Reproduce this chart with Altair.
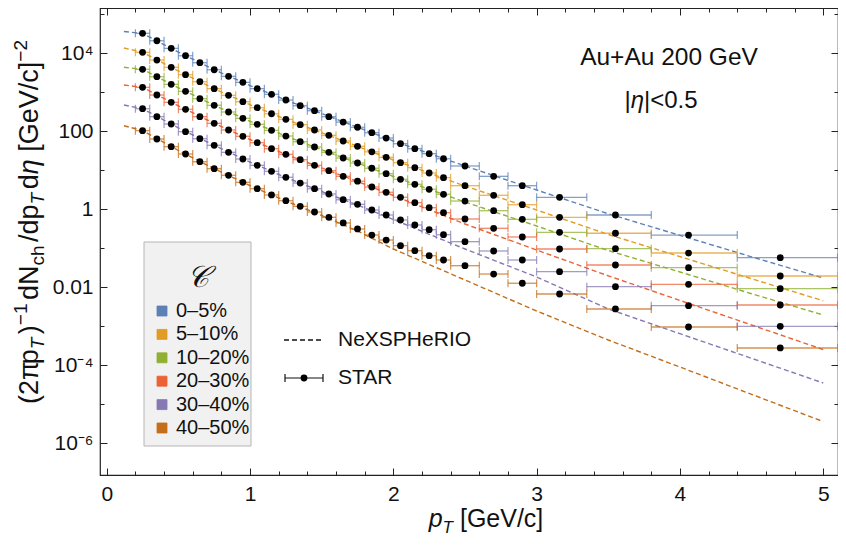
import altair as alt
import pandas as pd

# ---------------- data ----------------
CLASSES = ["0–5%", "5–10%", "10–20%", "20–30%", "30–40%", "40–50%"]
COLORS = ["#5E81B5", "#E19C24", "#8FB032", "#EB6235", "#8778B3", "#C56E1A"]

PT = [0.25, 0.35, 0.45, 0.55, 0.65, 0.75, 0.85, 0.95, 1.05, 1.15, 1.25, 1.35,
      1.45, 1.55, 1.65, 1.75, 1.85, 1.95, 2.05, 2.15, 2.25, 2.35,
      2.5, 2.7, 2.9, 3.16, 3.55, 4.06, 4.70]
PT_EDGES = [0.2, 0.3, 0.4, 0.5, 0.6, 0.7, 0.8, 0.9, 1.0, 1.1, 1.2, 1.3, 1.4,
            1.5, 1.6, 1.7, 1.8, 1.9, 2.0, 2.1, 2.2, 2.3, 2.4,
            2.6, 2.8, 3.0, 3.35, 3.8, 4.4, 5.1]

STAR_0_5 = [32600, 21000, 13400, 8670, 5740, 3790, 2570, 1800, 1240, 889, 635, 453,
            337, 237, 173, 127, 92.0, 67.3, 48.1, 35.8, 26.7, 19.8,
            12.9, 7.01, 4.03, 2.03, 0.714, 0.219, 0.0574]
STAR_5_10 = [10600, 6730, 4380, 2830, 1870, 1240, 838, 574, 403, 282, 203, 148,
             108, 78.9, 56.4, 41.2, 29.8, 21.5, 15.7, 11.7, 8.53, 6.46,
             4.03, 2.29, 1.31, 0.624, 0.243, 0.0757, 0.0195]
STAR_10_20 = [3890, 2510, 1600, 1060, 685, 464, 313, 215, 151, 106, 75.7, 54.1,
              39.6, 28.9, 20.7, 15.4, 11.3, 8.18, 5.88, 4.38, 3.26, 2.43,
              1.63, 0.921, 0.554, 0.257, 0.0977, 0.0318, 0.0092]
STAR_20_30 = [1340, 853, 554, 367, 237, 160, 108, 74.5, 51.0, 35.8, 25.7, 18.7,
              13.4, 9.77, 7.02, 5.26, 3.73, 2.73, 2.03, 1.48, 1.10, 0.818,
              0.564, 0.326, 0.195, 0.0960, 0.0373, 0.0119, 0.00352]
STAR_30_40 = [380, 237, 154, 97.7, 64.6, 43.8, 28.9, 19.5, 13.4, 9.43, 6.62, 4.72,
              3.37, 2.47, 1.76, 1.34, 0.959, 0.714, 0.532, 0.396, 0.300, 0.223,
              0.148, 0.0853, 0.0501, 0.0251, 0.0104, 0.00338, 0.00100]
STAR_40_50 = [104, 63.5, 40.3, 26.2, 16.6, 11.0, 7.45, 4.92, 3.37, 2.33, 1.66, 1.19,
              0.853, 0.624, 0.446, 0.313, 0.219, 0.163, 0.117, 0.0868, 0.0646, 0.0501,
              0.0358, 0.0219, 0.0127, 0.00673, 0.00278, 0.00096, 0.000278]
STAR = [STAR_0_5, STAR_5_10, STAR_10_20, STAR_20_30, STAR_30_40, STAR_40_50]

MODEL_PT = [0.12, 0.25, 0.5, 0.75, 1.0, 1.25, 1.5, 1.75, 2.0, 2.5, 3.0, 3.5, 4.0, 4.5, 5.0]
MODEL_0_5 = [36200, 32200, 10800, 3790, 1490, 635, 286, 127, 56.4, 12.9, 3.13, 0.767,
             0.215, 0.0605, 0.0173]
MODEL_5_10 = [13700, 10600, 3520, 1240, 481, 203, 92.0, 41.2, 18.4, 3.96, 0.959, 0.226,
              0.0612, 0.0166, 0.00451]
MODEL_10_20 = [4380, 3890, 1305, 464, 180, 75.7, 33.7, 15.4, 6.93, 1.54, 0.373, 0.0878,
               0.0247, 0.00685, 0.00195]
MODEL_20_30 = [1540, 1343, 451, 160, 61.6, 25.7, 11.5, 5.16, 2.26, 0.420, 0.0904, 0.0197,
               0.00461, 0.00108, 0.000253]
MODEL_30_40 = [472, 380, 122, 43.8, 16.3, 6.53, 2.86, 1.29, 0.548, 0.0960, 0.0184, 0.00278,
               0.000646, 0.000151, 0.0000352]
MODEL_40_50 = [139, 104, 32.2, 11.0, 4.07, 1.63, 0.693, 0.278, 0.0960, 0.0154, 0.00247,
               0.000445, 0.0000904, 0.0000180, 0.0000036]
MODEL = [MODEL_0_5, MODEL_5_10, MODEL_10_20, MODEL_20_30, MODEL_30_40, MODEL_40_50]

X_TICKS = [0.0, 0.2, 0.4, 0.6, 0.8, 1.0, 1.2, 1.4, 1.6, 1.8, 2.0, 2.2, 2.4, 2.6, 2.8,
           3.0, 3.2, 3.4, 3.6, 3.8, 4.0, 4.2, 4.4, 4.6, 4.8, 5.0]
Y_TICKS = [1e-6, 1e-5, 1e-4, 1e-3, 1e-2, 1e-1, 1, 10, 100, 1000, 1e4, 1e5]
Y_LABELS = [(1e4, "10⁴"), (100, "100"), (1, "1"), (0.01, "0.01"),
            (1e-4, "10⁻⁴"), (1e-6, "10⁻⁶")]

# ---------------- tables ----------------
star_rows = []
for cls, vals in zip(CLASSES, STAR):
    for i, (p, v) in enumerate(zip(PT, vals)):
        star_rows.append({"cls": cls, "pt": p, "val": v,
                          "lo": PT_EDGES[i], "hi": PT_EDGES[i + 1]})
star = pd.DataFrame(star_rows)

model_rows = []
for cls, vals in zip(CLASSES, MODEL):
    for p, v in zip(MODEL_PT, vals):
        model_rows.append({"cls": cls, "pt": p, "val": v})
model = pd.DataFrame(model_rows)

ONE = pd.DataFrame({"k": [0]})

# ---------------- style ----------------
FONT = "Liberation Sans"
INK = "#111111"
W, H = 738, 467
PL, PT0 = 92, 0  # padding left / top -> plot origin at page (100, 8)

xs = alt.Scale(domain=[-0.047, 5.103], nice=False, zero=False)
ys = alt.Scale(type="log", domain=[1.538e-7, 1.452e5], nice=False)
cs = alt.Scale(domain=CLASSES, range=COLORS)

X_MAJOR = "abs(datum.value - round(datum.value)) < 1e-6"
Y_MAJOR = "abs(log(datum.value)/LN10/2 - round(log(datum.value)/LN10/2)) < 1e-6"


def axis(orient, values, major, labels=False, label_expr=None, pad=7):
    kw = dict(orient=orient, values=values, domain=False, grid=False, ticks=True,
              tickSize=7, offset=-7, tickColor="#222222", tickWidth=1,
              tickDash={"condition": {"test": "!(" + major + ")", "value": [0, 3, 4, 30]},
                        "value": [9, 0]},
              title=None)
    if labels:
        kw.update(labels=True, labelExpr=label_expr, labelFont=FONT, labelFontSize=21,
                  labelColor=INK, labelPadding=pad, labelFlush=False,
                  labelOverlap=False, labelBound=False)
    else:
        kw.update(labels=False)
    return alt.Axis(**kw)


y_expr = " : ".join(f"datum.value == {v!r} ? '{s}'" for v, s in Y_LABELS) + " : ''"
x_expr = "(" + X_MAJOR + ") ? format(datum.value, 'd') : ''"

ax_bottom = axis("bottom", X_TICKS, X_MAJOR, True, x_expr, pad=8)
ax_top = axis("top", X_TICKS, X_MAJOR)
ax_left = axis("left", Y_TICKS, Y_MAJOR, True, y_expr, pad=7)
ax_right = axis("right", Y_TICKS, Y_MAJOR)

# colour legend: entries only; its box and title are drawn as separate marks
legend = alt.Legend(
    title=None, orient="none", legendX=52, legendY=293, padding=0,
    symbolType="square", symbolSize=100, symbolOpacity=1,
    symbolStrokeColor="rgba(0,0,0,0.35)", symbolStrokeWidth=0.8,
    labelFont=FONT, labelFontSize=20, labelColor=INK, labelOffset=4, labelLimit=300,
    rowPadding=3.4,
)
color = alt.Color("cls:N", scale=cs, legend=legend)

# ---------------- data layers ----------------
lines = alt.Chart(model).mark_line(strokeDash=[5, 3], strokeWidth=1.4).encode(
    x=alt.X("pt:Q", scale=xs, axis=ax_top),
    y=alt.Y("val:Q", scale=ys, axis=ax_right),
    color=color,
    detail="cls:N",
)

bars = alt.Chart(star).mark_rule(strokeWidth=1.3, opacity=0.75).encode(
    x=alt.X("lo:Q", scale=xs, axis=None),
    x2="hi:Q",
    y=alt.Y("val:Q", scale=ys, axis=None),
    color=color,
)

caps = alt.Chart(star).transform_fold(["lo", "hi"], as_=["side", "edge"]).mark_tick(
    orient="vertical", size=8, thickness=1.2, opacity=0.75
).encode(
    x=alt.X("edge:Q", scale=xs, axis=None),
    y=alt.Y("val:Q", scale=ys, axis=None),
    color=color,
)

points = alt.Chart(star).mark_circle(size=46, color="black", opacity=1).encode(
    x=alt.X("pt:Q", scale=xs, axis=ax_bottom),
    y=alt.Y("val:Q", scale=ys, axis=ax_left),
)


# ---------------- text helpers (positions relative to plot origin) ----------------
def txt(text, x, y, size, style="normal", angle=None, align="left",
        baseline="alphabetic", font=FONT):
    kw = dict(text=text, fontSize=size, fontStyle=style, align=align,
              baseline=baseline, font=font, color=INK)
    if angle is not None:
        kw["angle"] = angle
    return alt.Chart(ONE).mark_text(**kw).encode(x=alt.value(x), y=alt.value(y))


AW = {'(': 333, ')': 333, '2': 556, 'π': 580, 'p': 556, 'T': 611, '−': 584, '1': 556,
      'd': 556, 'N': 722, 'c': 500, 'h': 556, '/': 278, 'η': 556, ' ': 278, '[': 278,
      'G': 778, 'e': 556, 'V': 667, ']': 278, '|': 260, '<': 584, '0': 556, '.': 278,
      '5': 556}


def tw(s, size):
    return sum(AW.get(ch, 556) for ch in s) * size / 1000.0


def rich(pieces, x0, y0, vertical, center=True):
    """pieces: (text, size, style, shift, extra_gap_before). Returns text layers."""
    total = sum(tw(t, s) + g for t, s, st, sh, g in pieces)
    out = []
    adv = -total / 2 if center else 0
    for t, s, st, sh, g in pieces:
        adv += g
        if vertical:
            out.append(txt(t, x0 + sh, y0 - adv, s, st, angle=270))
        else:
            out.append(txt(t, x0 + adv, y0 + sh, s, st))
        adv += tw(t, s)
    return out


M, S = 27, 19
SUB, SUP = 0.22 * M, -0.42 * M
G = 3.5
ytitle = rich([
    ("(2π", M, "normal", 0, 0), ("p", M, "normal", 0, 0), ("T", S, "italic", SUB, 0),
    (")", M, "normal", 0, G), ("−1", S, "normal", SUP, 0), ("dN", M, "normal", 0, G),
    ("ch", S, "normal", SUB, 0), ("/dp", M, "normal", 0, G), ("T", S, "italic", SUB, 0),
    ("d", M, "normal", 0, G), ("η", M, "italic", 0, 0),
    ("[GeV/c]", M, "normal", 0, tw(" ", M)), ("−2", S, "normal", SUP, 0),
], x0=38 - 100, y0=222 - 8, vertical=True)

M2, S2 = 25, 17
xtitle = rich([
    ("p", M2, "italic", 0, 0), ("T", S2, "italic", 0.22 * M2, 0),
    ("[GeV/c]", M2, "normal", 0, tw(" ", M2)),
], x0=486 - 100, y0=527 - 8, vertical=False)

eta = rich([
    ("|", 24, "normal", 0, 0), ("η", 24, "italic", 0, 0), ("|<0.5", 24, "normal", 0, 0),
], x0=661 - 100, y0=108 - 8, vertical=False)

annot = [txt("Au+Au 200 GeV", 569, 50, 24.5, align="center", baseline="middle")]

# legend box + title for the colour legend
leg_box = alt.Chart(ONE).mark_rect(fill="#f1f1f1", stroke="#b5b5b5", strokeWidth=1).encode(
    x=alt.value(44), x2=alt.value(151), y=alt.value(234), y2=alt.value(438))
leg_title = txt("𝒞", 97.5, 270, 30, style="italic", align="center", baseline="middle",
                font="DejaVu Serif")

# custom legend: NeXSPHeRIO / STAR
leg_line = alt.Chart(ONE).mark_rule(color=INK, strokeDash=[5, 3], strokeWidth=1.3).encode(
    x=alt.value(184), x2=alt.value(223), y=alt.value(332))
leg_bar = alt.Chart(ONE).mark_rule(color=INK, strokeWidth=1.2).encode(
    x=alt.value(185), x2=alt.value(223), y=alt.value(370))
leg_cap1 = alt.Chart(ONE).mark_rule(color=INK, strokeWidth=1.2).encode(
    x=alt.value(185), y=alt.value(366), y2=alt.value(374))
leg_cap2 = alt.Chart(ONE).mark_rule(color=INK, strokeWidth=1.2).encode(
    x=alt.value(223), y=alt.value(366), y2=alt.value(374))
leg_dot = alt.Chart(ONE).mark_circle(color="black", size=46, opacity=1).encode(
    x=alt.value(204), y=alt.value(370))
leg_t1 = txt("NeXSPHeRIO", 238, 332, 21, baseline="middle")
leg_t2 = txt("STAR", 238, 370, 21, baseline="middle")

layers = [leg_box, lines, bars, caps, points, leg_title, leg_line, leg_bar, leg_cap1,
          leg_cap2, leg_dot, leg_t1, leg_t2] + annot + eta + xtitle + ytitle

chart = alt.layer(*layers).resolve_axis(x="independent", y="independent").properties(
    width=W, height=H,
    autosize=alt.AutoSizeParams(type="none"),
    padding={"left": PL, "top": PT0, "right": 0, "bottom": 62},
).configure_view(stroke="#222222", strokeWidth=1.2)

chart.save("out.html", embed_options={"renderer": "svg", "actions": False})
